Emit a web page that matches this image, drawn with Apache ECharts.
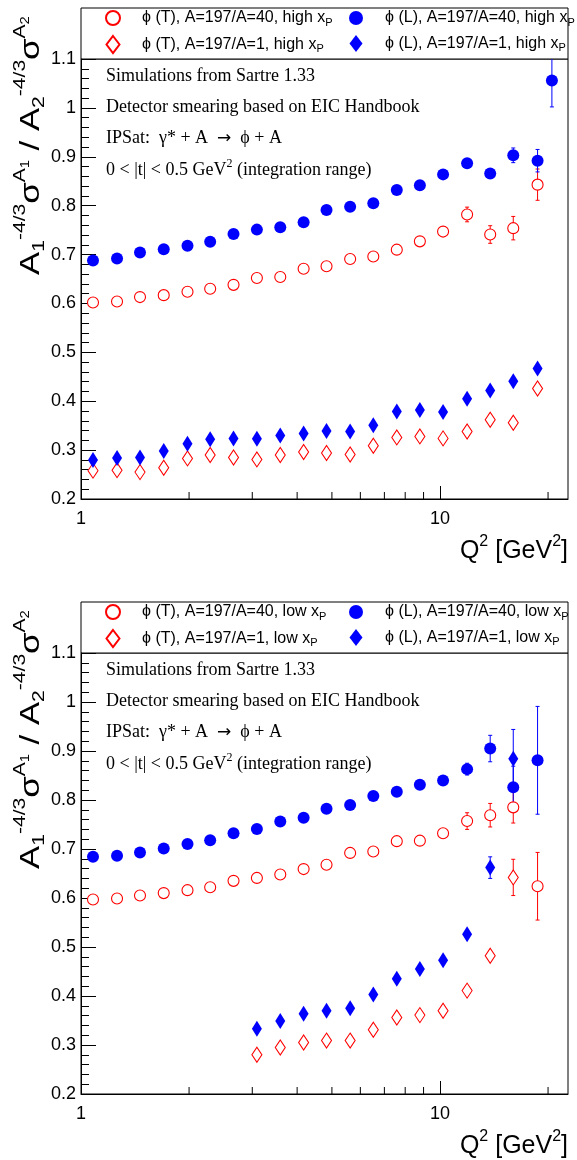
<!DOCTYPE html>
<html>
<head>
<meta charset="utf-8">
<script src="https://cdn.jsdelivr.net/npm/echarts@6/dist/echarts.min.js"></script>
<style>
  html, body { margin: 0; padding: 0; background: #fff; }
  #chart { width: 577px; height: 1160px; }
</style>
</head>
<body>
<div id="chart"></div>
<script>
// Q^2 bin positions [GeV^2]
const q2 = [1.08, 1.26, 1.46, 1.70, 1.98, 2.29, 2.66, 3.09, 3.59, 4.17,
            4.83, 5.62, 6.52, 7.58, 8.79, 10.2, 11.9, 13.8, 16.0, 18.7];

// ---- high x_P ----
const highT40 = [0.602, 0.604, 0.613, 0.617, 0.624, 0.630, 0.638, 0.652, 0.654, 0.671,
                 0.676, 0.691, 0.696, 0.710, 0.727, 0.747, 0.782, 0.741, 0.754, 0.843];
const highT40Err = [null, null, null, null, null, null, null, null, null, null,
                    null, null, null, null, null, null, 0.015, 0.018, 0.024, 0.032];
const highL40 = [0.688, 0.692, 0.704, 0.711, 0.718, 0.726, 0.742, 0.751, 0.756, 0.766,
                 0.791, 0.798, 0.805, 0.832, 0.842, 0.864, 0.887, 0.866, 0.903, 0.892];
const highL40Err = [null, null, null, null, null, null, null, null, null, null,
                    null, null, null, null, null, null, null, null, 0.015, 0.023];
const highL40TailQ2 = [20.5];
const highL40Tail = [1.056];
const highL40TailErr = [0.054];
const highT1 = [0.258, 0.259, 0.255, 0.264, 0.283, 0.290, 0.285, 0.281, 0.290, 0.296,
                0.294, 0.291, 0.309, 0.326, 0.328, 0.324, 0.338, 0.362, 0.356, 0.426];
const highL1 = [0.280, 0.284, 0.285, 0.298, 0.313, 0.322, 0.324, 0.323, 0.330, 0.334,
                0.339, 0.338, 0.351, 0.379, 0.382, 0.378, 0.405, 0.422, 0.441, 0.467];

// ---- low x_P ----
const lowT40 = [0.597, 0.599, 0.605, 0.610, 0.616, 0.622, 0.635, 0.641, 0.648, 0.659,
                0.668, 0.692, 0.695, 0.716, 0.717, 0.732, 0.757, 0.769, 0.785, 0.624];
const lowT40Err = [null, null, null, null, null, null, null, null, null, null,
                   null, null, null, null, null, null, 0.017, 0.024, 0.032, 0.069];
const lowL40 = [0.684, 0.686, 0.693, 0.701, 0.710, 0.718, 0.732, 0.741, 0.756, 0.764,
                0.782, 0.790, 0.808, 0.817, 0.831, 0.840, 0.863, 0.905, 0.826, 0.881];
const lowL40Err = [null, null, null, null, null, null, null, null, null, null,
                   null, null, null, null, null, null, 0.012, 0.027, 0.043, 0.110];
const lowT1 = [null, null, null, null, null, null, null, 0.280, 0.295, 0.305,
               0.309, 0.309, 0.331, 0.356, 0.361, 0.370, 0.411, 0.482, 0.642, null];
const lowT1Err = [null, null, null, null, null, null, null, null, null, null,
                  null, null, null, null, null, null, null, null, 0.037, null];
const lowL1 = [null, null, null, null, null, null, null, 0.333, 0.349, 0.364,
               0.370, 0.375, 0.403, 0.435, 0.455, 0.473, 0.526, 0.662, 0.884, null];
const lowL1Err = [null, null, null, null, null, null, null, null, null, null,
                  null, null, null, null, null, null, null, 0.022, 0.060, null];

// axis ranges and tick values
const q2Min = 1, q2Max = 22.73;
const ratioMin = 0.2, ratioMax = 1.1, ratioStep = 0.1;
const q2MinorTicks = [2, 3, 4, 5, 6, 7, 8, 9, 20];

const annotation = [
  'Simulations from Sartre 1.33',
  'Detector smearing based on EIC Handbook',
  'IPSat:  γ* + A  {a|→}  ϕ + A',
  '0 < |t| < 0.5 GeV{u|2} (integration range)'
];

const SANS = '"Liberation Sans", Arial, Helvetica, sans-serif';
const SERIF = '"Liberation Serif", "Times New Roman", serif';
const RED = '#ff0000', BLUE = '#0000ff';

function pairs(xs, ys) {
  const out = [];
  ys.forEach((y, i) => { if (y != null) out.push([xs[i], y]); });
  return out;
}
function triples(xs, ys, es) {
  const out = [];
  ys.forEach((y, i) => { if (y != null && es[i] != null) out.push([xs[i], y, es[i]]); });
  return out;
}

const panels = [
  {
    top: 59, height: 440, boxTop: 8, tag: 'high',
    sets: [
      { key: 'T40', data: pairs(q2, highT40), err: triples(q2, highT40, highT40Err) },
      { key: 'L40', data: pairs(q2, highL40).concat(pairs(highL40TailQ2, highL40Tail)),
        err: triples(q2, highL40, highL40Err).concat(triples(highL40TailQ2, highL40Tail, highL40TailErr)) },
      { key: 'T1', data: pairs(q2, highT1), err: [] },
      { key: 'L1', data: pairs(q2, highL1), err: [] }
    ]
  },
  {
    top: 653, height: 441, boxTop: 602, tag: 'low',
    sets: [
      { key: 'T40', data: pairs(q2, lowT40), err: triples(q2, lowT40, lowT40Err) },
      { key: 'L40', data: pairs(q2, lowL40), err: triples(q2, lowL40, lowL40Err) },
      { key: 'T1', data: pairs(q2, lowT1), err: triples(q2, lowT1, lowT1Err) },
      { key: 'L1', data: pairs(q2, lowL1), err: triples(q2, lowL1, lowL1Err) }
    ]
  }
];

// marker styles per data set
const styles = {
  T40: { label: 'ϕ (T), A=197/A=40', symbol: 'circle', size: 11, color: RED, open: true, icon: [14, 14] },
  L40: { label: 'ϕ (L), A=197/A=40', symbol: 'circle', size: 12, color: BLUE, open: false, icon: [14, 14] },
  T1:  { label: 'ϕ (T), A=197/A=1',  symbol: 'diamond', size: [10, 15], color: RED, open: true, icon: [13, 17] },
  L1:  { label: 'ϕ (L), A=197/A=1',  symbol: 'diamond', size: [10, 16], color: BLUE, open: false, icon: [13, 17] }
};
// legend slots: [key, icon centre x, row]
const legendSlots = [['T40', 112, 0], ['L40', 356, 0], ['T1', 112, 1], ['L1', 356, 1]];

const grids = [], xAxes = [], yAxes = [], series = [], legends = [], graphics = [];

panels.forEach((p, pi) => {
  grids.push({ left: 81, top: p.top, width: 487, height: p.height,
               show: true, borderColor: '#000', borderWidth: 1, backgroundColor: 'transparent' });
  xAxes.push({
    type: 'log', logBase: 10, gridIndex: pi, min: q2Min, max: q2Max,
    axisLine: { lineStyle: { color: '#000', width: 1 } },
    axisTick: { inside: true, length: 13, lineStyle: { color: '#000' } },
    axisLabel: {
      color: '#000', fontFamily: SANS, fontSize: 18, margin: 11, showMaxLabel: false,
      formatter: v => {
        const l = Math.log10(v);
        return Math.abs(l - Math.round(l)) < 1e-6 && v < 11 ? String(Math.round(v)) : '';
      }
    },
    splitLine: { show: false }
  });
  yAxes.push({
    type: 'value', gridIndex: pi, min: ratioMin, max: ratioMax, interval: ratioStep,
    axisLine: { show: true, lineStyle: { color: '#000', width: 1 } },
    axisTick: { inside: true, length: 15, lineStyle: { color: '#000' } },
    minorTick: { show: true, splitNumber: 5, length: 8, lineStyle: { color: '#000' } },
    axisLabel: { color: '#000', fontFamily: SANS, fontSize: 18, margin: 5,
                 formatter: v => String(Math.round(v * 10) / 10) },
    splitLine: { show: false }
  });

  // minor ticks on the logarithmic Q^2 axis
  series.push({
    type: 'custom', xAxisIndex: pi, yAxisIndex: pi, silent: true, z: 3,
    data: q2MinorTicks.map(v => [v]),
    encode: { x: 0 },
    renderItem: (params, api) => {
      const pt = api.coord([api.value(0), ratioMin]);
      return { type: 'line', shape: { x1: pt[0], y1: pt[1], x2: pt[0], y2: pt[1] - 7 },
               style: { stroke: '#000', lineWidth: 1 } };
    }
  });

  p.sets.forEach(s => {
    const st = styles[s.key];
    const name = st.label + ', ' + p.tag + ' x_P';
    if (s.err.length) {
      series.push({
        type: 'custom', xAxisIndex: pi, yAxisIndex: pi, silent: true, clip: true, z: 1,
        data: s.err, encode: { x: 0, y: 1 },
        renderItem: (params, api) => {
          const x = api.value(0), y = api.value(1), e = api.value(2);
          const a = api.coord([x, y + e]), b = api.coord([x, y - e]);
          const ls = { stroke: st.color, lineWidth: 1 };
          return { type: 'group', children: [
            { type: 'line', shape: { x1: a[0], y1: a[1], x2: b[0], y2: b[1] }, style: ls },
            { type: 'line', shape: { x1: a[0] - 2, y1: a[1], x2: a[0] + 2, y2: a[1] }, style: ls },
            { type: 'line', shape: { x1: b[0] - 2, y1: b[1], x2: b[0] + 2, y2: b[1] }, style: ls }
          ] };
        }
      });
    }
    series.push({
      type: 'scatter', name, xAxisIndex: pi, yAxisIndex: pi, z: 2,
      symbol: st.symbol, symbolSize: st.size, data: s.data,
      itemStyle: st.open
        ? { color: '#fff', borderColor: st.color, borderWidth: 1.1, opacity: 1 }
        : { color: st.color, borderWidth: 0, opacity: 1 }
    });
  });

  legendSlots.forEach(([key, cx, row]) => {
    const st = styles[key];
    const name = st.label + ', ' + p.tag + ' x_P';
    const rowCentre = p.boxTop + (row === 0 ? 12 : 37);
    legends.push({
      data: [name], left: cx - st.icon[0] / 2, top: rowCentre - 10, padding: 0,
      itemWidth: st.icon[0], itemHeight: st.icon[1], symbolKeepAspect: false,
      selectedMode: false,
      formatter: n => n.replace('x_P', 'x{p|P}'),
      textStyle: {
        fontFamily: SANS, fontSize: 16, color: '#000', padding: [0, 0, 0, 22 - st.icon[0] / 2 + 7 - 5],
        rich: { p: { fontFamily: SANS, fontSize: 11, color: '#000', padding: [9, 0, 0, 0] } }
      }
    });
  });

  // legend frame
  graphics.push({
    type: 'rect', silent: true, z: 0,
    shape: { x: 81, y: p.boxTop, width: 487, height: p.top - p.boxTop },
    style: { fill: '#fff', stroke: '#000', lineWidth: 1 }
  });
  // annotation block
  annotation.forEach((t, i) => {
    graphics.push({
      type: 'text', x: 106, y: p.top + 17 + i * 31.3, silent: true, z: 10,
      style: { text: t, font: '18px ' + SERIF, fill: '#000', verticalAlign: 'middle',
               rich: {
                 u: { fontFamily: SERIF, fontSize: 12, padding: [0, 0, 12, 0] },
                 a: { fontFamily: '"DejaVu Sans", sans-serif', fontSize: 17 }
               } }
    });
  });
  // y-axis title, stretched along its length
  graphics.push({
    type: 'text', x: 31, y: p.top + 216, rotation: Math.PI / 2, scaleX: 1.24, silent: true, z: 10,
    style: {
      text: '{m|A}{sb|1}{sp|-4/3}{m|σ}{sp|A}{ssb|1}{m| / A}{sb|2}{sp|-4/3}{m|σ}{sp|A}{ssb|2}',
      align: 'left', verticalAlign: 'middle', fill: '#000',
      rich: {
        m: { fontFamily: SANS, fontSize: 28, color: '#000' },
        sb: { fontFamily: SANS, fontSize: 17, color: '#000', padding: [16, 0, 0, 0] },
        sp: { fontFamily: SANS, fontSize: 17, color: '#000', padding: [0, 0, 22, 0] },
        ssb: { fontFamily: SANS, fontSize: 12, color: '#000', padding: [0, 0, 10, 0] }
      }
    }
  });
  // x-axis title
  graphics.push({
    type: 'text', x: 568, y: p.top + p.height + 52, silent: true, z: 10,
    style: {
      text: '{m|Q}{sp|2}{m| [GeV}{sp|2}{m|]}',
      align: 'right', verticalAlign: 'middle', fill: '#000',
      rich: {
        m: { fontFamily: SANS, fontSize: 25, color: '#000' },
        sp: { fontFamily: SANS, fontSize: 16, color: '#000', padding: [0, 0, 18, 0] }
      }
    }
  });
});

const chart = echarts.init(document.getElementById('chart'), null, { renderer: 'canvas' });
chart.setOption({
  animation: false,
  backgroundColor: '#fff',
  grid: grids,
  xAxis: xAxes,
  yAxis: yAxes,
  legend: legends,
  graphic: { elements: graphics },
  series
});
</script>
</body>
</html>
